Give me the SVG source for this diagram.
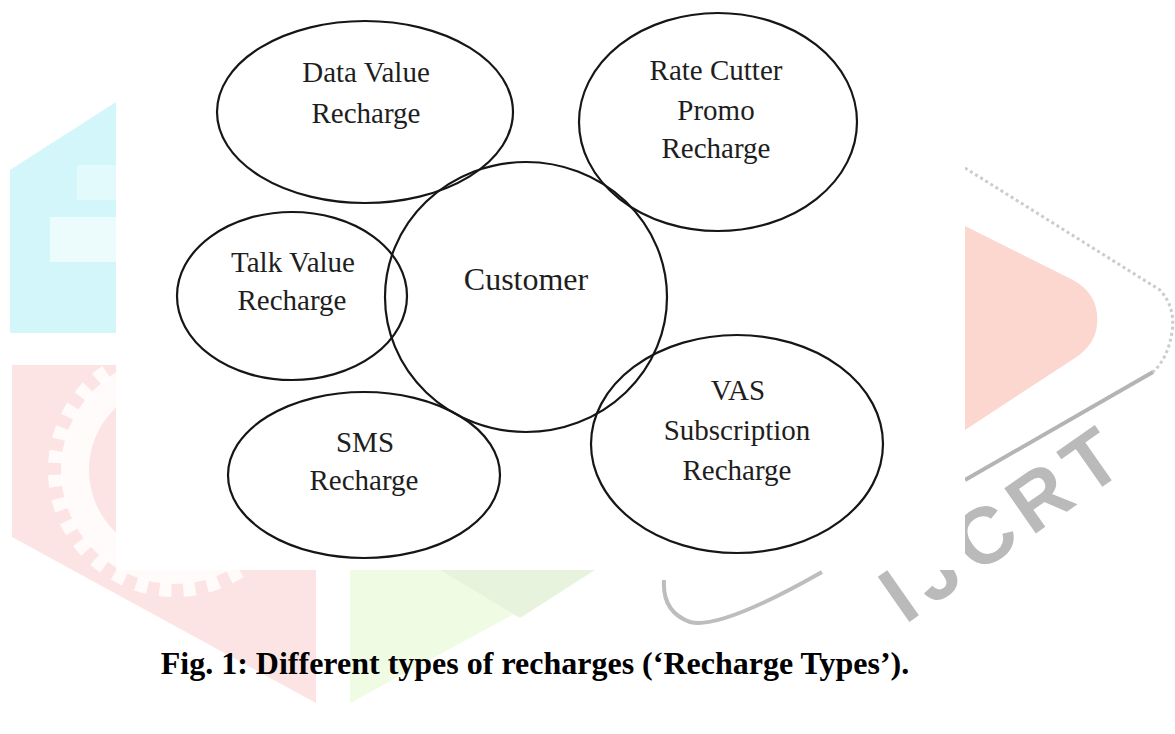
<svg xmlns="http://www.w3.org/2000/svg" width="1175" height="734" viewBox="0 0 1175 734">
  <style>
    .node { fill: none; stroke: #161616; stroke-width: 2.2; }
    .lbl { font-family: "Liberation Serif", "Times New Roman", serif; font-size: 29px; fill: #1e1e1e; text-anchor: middle; }
    .cust { font-size: 32px; }
    .cap { font-family: "Liberation Serif", "Times New Roman", serif; font-size: 32px; font-weight: bold; fill: #000; text-anchor: middle; }
    .wm { font-family: "Liberation Sans", Arial, sans-serif; font-weight: bold; font-size: 80px; fill: #bababa; letter-spacing: 10px; }
  </style>
  <rect x="0" y="0" width="1175" height="734" fill="#ffffff"/>

  <!-- watermark (background logo) -->
  <g id="watermark">
    <polygon points="10,170 116,102 116,333 10,333" fill="#d2f6f9"/>
    <rect x="50" y="217" width="66" height="45" fill="#ecfcfd"/>
    <rect x="77" y="165" width="39" height="35" fill="#e3fafc"/>
    <polygon points="12,365 316,365 316,703 12,537" fill="#fde4e4"/>
    <circle cx="175" cy="470" r="100" fill="none" stroke="#ffffff" stroke-width="28" opacity="0.85"/>
    <circle cx="175" cy="470" r="120" fill="none" stroke="#ffffff" stroke-width="14" stroke-dasharray="12 12" opacity="0.85"/>
    <polygon points="350,570 595,570 350,703" fill="#f0fbe3"/>
    <polygon points="440,570 595,570 520,618" fill="#e7f3dc"/>
    <path d="M965,226 L1073,280 Q1100,295 1097,325 Q1095,345 1075,358 L965,430 Z" fill="#fcd7d0"/>
    <path d="M965,168 L1160,290 Q1176,308 1172,332 Q1168,358 1153,372" fill="none" stroke="#cccccc" stroke-width="3" stroke-dasharray="3 3"/>
    <path d="M1153,372 L965,480" fill="none" stroke="#b4b4b4" stroke-width="4"/>
    <path d="M822,572 Q720,630 690,622 Q662,612 664,580" fill="none" stroke="#bdbdbd" stroke-width="4"/>
    <text class="wm" transform="translate(905,625) rotate(-35)" x="0" y="0">IJCRT</text>
  </g>

  <!-- white figure area -->
  <rect x="116" y="0" width="849" height="570" fill="#ffffff"/>

  <g id="connectors"></g>

  <g id="node-data-value">
    <ellipse class="node" cx="365" cy="112" rx="148" ry="91"/>
    <text class="lbl" x="366" y="82">Data Value</text>
    <text class="lbl" x="366" y="123">Recharge</text>
  </g>

  <g id="node-rate-cutter">
    <ellipse class="node" cx="718" cy="122" rx="139" ry="109"/>
    <text class="lbl" x="716" y="80">Rate Cutter</text>
    <text class="lbl" x="716" y="120">Promo</text>
    <text class="lbl" x="716" y="158">Recharge</text>
  </g>

  <g id="node-talk-value">
    <ellipse class="node" cx="292" cy="296" rx="115" ry="84"/>
    <text class="lbl" x="293" y="272">Talk Value</text>
    <text class="lbl" x="292" y="310">Recharge</text>
  </g>

  <g id="node-customer">
    <ellipse class="node" cx="526" cy="297" rx="141" ry="135"/>
    <text class="lbl cust" x="526" y="290">Customer</text>
  </g>

  <g id="node-sms">
    <ellipse class="node" cx="364" cy="475" rx="136" ry="83"/>
    <text class="lbl" x="365" y="452">SMS</text>
    <text class="lbl" x="364" y="490">Recharge</text>
  </g>

  <g id="node-vas">
    <ellipse class="node" cx="737" cy="444" rx="146" ry="109"/>
    <text class="lbl" x="738" y="400">VAS</text>
    <text class="lbl" x="737" y="440">Subscription</text>
    <text class="lbl" x="737" y="480">Recharge</text>
  </g>

  <g id="caption">
    <text class="cap" x="535" y="674">Fig. 1: Different types of recharges (‘Recharge Types’).</text>
  </g>
</svg>
